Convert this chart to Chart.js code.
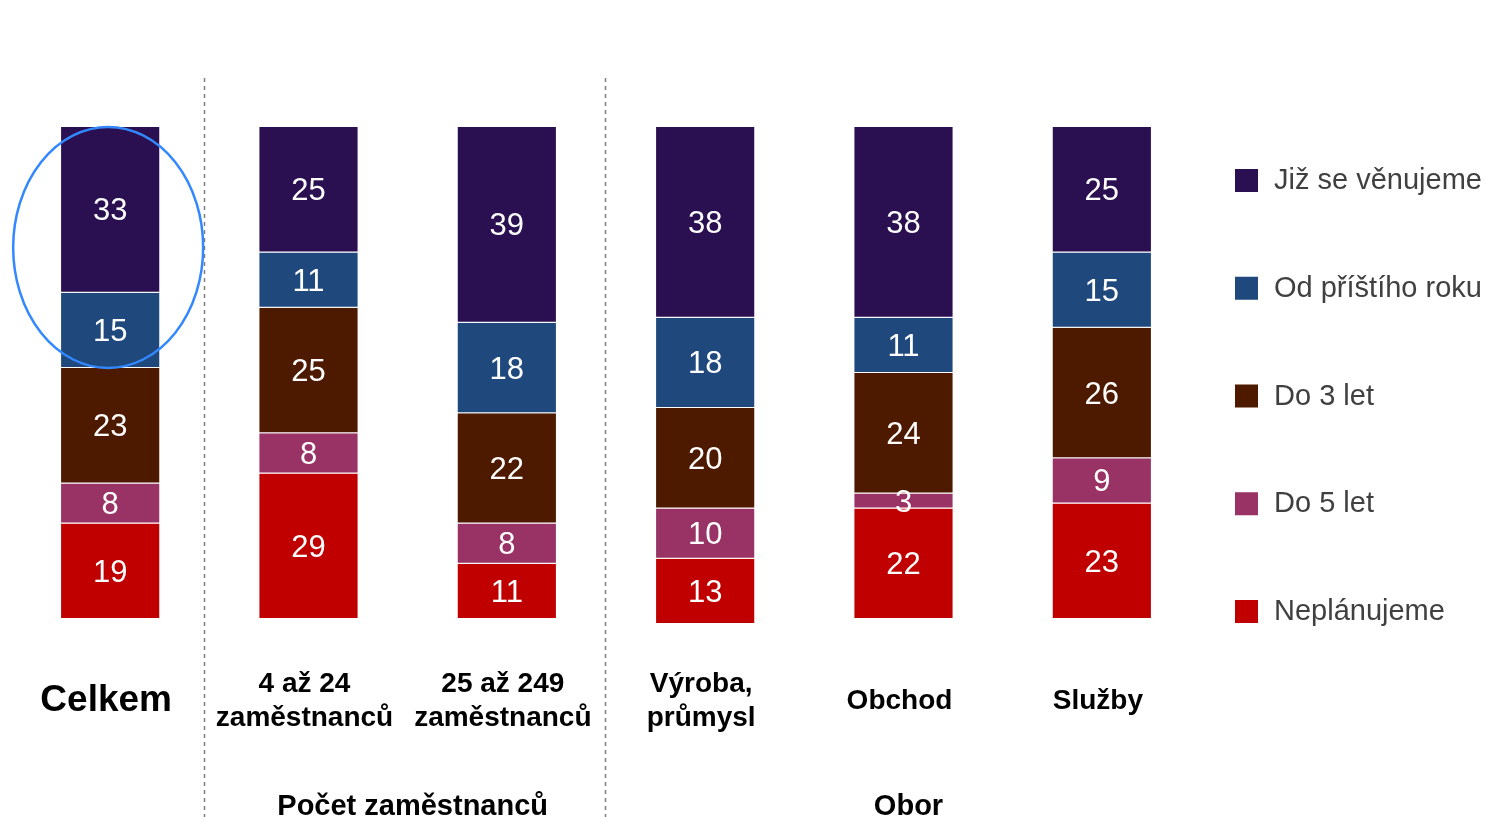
<!DOCTYPE html>
<html>
<head>
<meta charset="utf-8">
<script src="https://cdn.jsdelivr.net/npm/chart.js@4"></script>
<style>
  body { margin: 0; background: #fff; }
  #wrap { width: 1486px; height: 817px; }
</style>
</head>
<body>
<div id="wrap"><canvas id="barChart"></canvas></div>
<script>
const categories = ["Celkem", ["4 až 24", "zaměstnanců"], ["25 až 249", "zaměstnanců"], ["Výroba,", "průmysl"], "Obchod", "Služby"];
const seriesNames = ["Již se věnujeme", "Od příštího roku", "Do 3 let", "Do 5 let", "Neplánujeme"];
const jizSeVenujeme = [33, 25, 39, 38, 38, 25];
const odPristihoRoku = [15, 11, 18, 18, 11, 15];
const do3Let = [23, 25, 22, 20, 24, 26];
const do5Let = [8, 8, 8, 10, 3, 9];
const neplanujeme = [19, 29, 11, 13, 22, 23];
const groups = [
  { name: "Počet zaměstnanců", from: 1, to: 2 },
  { name: "Obor", from: 3, to: 5 },
];
const colors = ["#2a1050", "#1f497d", "#4d1a00", "#993366", "#c00000"];

const seriesValues = [jizSeVenujeme, odPristihoRoku, do3Let, do5Let, neplanujeme];

const extras = {
  id: "extras",
  afterDatasetsDraw(chart) {
    const ctx = chart.ctx;
    const x = chart.scales.x;
    const y = chart.scales.y;

    // values inside the segments
    ctx.save();
    ctx.fillStyle = "#ffffff";
    ctx.font = "31px 'Liberation Sans', Arial, sans-serif";
    ctx.textAlign = "center";
    ctx.textBaseline = "middle";
    chart.data.datasets.forEach((ds, i) => {
      chart.getDatasetMeta(i).data.forEach((bar, j) => {
        ctx.fillText(ds.data[j], bar.x, (bar.y + bar.base) / 2 + 2);
      });
    });
    ctx.restore();

    // dashed separators
    ctx.save();
    ctx.strokeStyle = "#7f7f7f";
    ctx.lineWidth = 1.5;
    ctx.setLineDash([4, 4]);
    [[0, -4], [2, 0]].forEach(([i, dx]) => {
      const sx = Math.round((x.getPixelForValue(i) + x.getPixelForValue(i + 1)) / 2) + dx - 0.5;
      ctx.beginPath();
      ctx.moveTo(sx, 78);
      ctx.lineTo(sx, 817);
      ctx.stroke();
    });
    ctx.restore();

    // category labels
    ctx.save();
    ctx.fillStyle = "#000000";
    ctx.textAlign = "center";
    ctx.textBaseline = "middle";
    categories.forEach((c, i) => {
      const cx = x.getPixelForValue(i) - 4;
      const lines = Array.isArray(c) ? c : [c];
      const size = i === 0 ? 37 : 28;
      ctx.font = "bold " + size + "px 'Liberation Sans', Arial, sans-serif";
      const lh = 34;
      const top = 701 - ((lines.length - 1) * lh) / 2;
      lines.forEach((l, k) => ctx.fillText(l, cx, top + k * lh));
    });
    ctx.font = "bold 29px 'Liberation Sans', Arial, sans-serif";
    groups.forEach((g) => {
      const gx = (x.getPixelForValue(g.from) + x.getPixelForValue(g.to)) / 2 + 5;
      ctx.fillText(g.name, gx, 807);
    });
    ctx.restore();

    // legend
    ctx.save();
    ctx.font = "29px 'Liberation Sans', Arial, sans-serif";
    ctx.textBaseline = "middle";
    ctx.textAlign = "left";
    chart.data.datasets.forEach((ds, i) => {
      const ly = 181 + i * 107.75;
      ctx.fillStyle = ds.backgroundColor;
      ctx.fillRect(1235, ly - 12, 23, 23);
      ctx.fillStyle = "#404040";
      ctx.fillText(ds.label, 1274, ly);
    });
    ctx.restore();

    // highlight ellipse around first two segments of Celkem
    ctx.save();
    const top = y.getPixelForValue(0);
    const bottom = y.getPixelForValue(jizSeVenujeme[0] + odPristihoRoku[0]);
    ctx.strokeStyle = "#3388ff";
    ctx.lineWidth = 2.5;
    ctx.beginPath();
    ctx.ellipse(x.getPixelForValue(0) - 2, (top + bottom) / 2, 95, (bottom - top) / 2, 0, 0, Math.PI * 2);
    ctx.stroke();
    ctx.restore();
  },
};

new Chart(document.getElementById("barChart"), {
  type: "bar",
  data: {
    labels: categories,
    datasets: seriesNames.map((name, i) => ({
      label: name,
      data: seriesValues[i],
      backgroundColor: colors[i],
      borderColor: "rgba(255,255,255,0.45)",
      borderWidth: 1,
      barPercentage: 1,
      categoryPercentage: 0.505,
    })),
  },
  options: {
    responsive: true,
    maintainAspectRatio: false,
    animation: false,
    layout: { padding: { top: 127, bottom: 188, left: 11, right: 285 } },
    plugins: {
      legend: { display: false },
      tooltip: { enabled: false },
    },
    scales: {
      x: { stacked: true, display: false },
      y: { stacked: true, display: false, reverse: true, min: 0, max: 100 },
    },
  },
  plugins: [extras],
});
</script>
</body>
</html>
